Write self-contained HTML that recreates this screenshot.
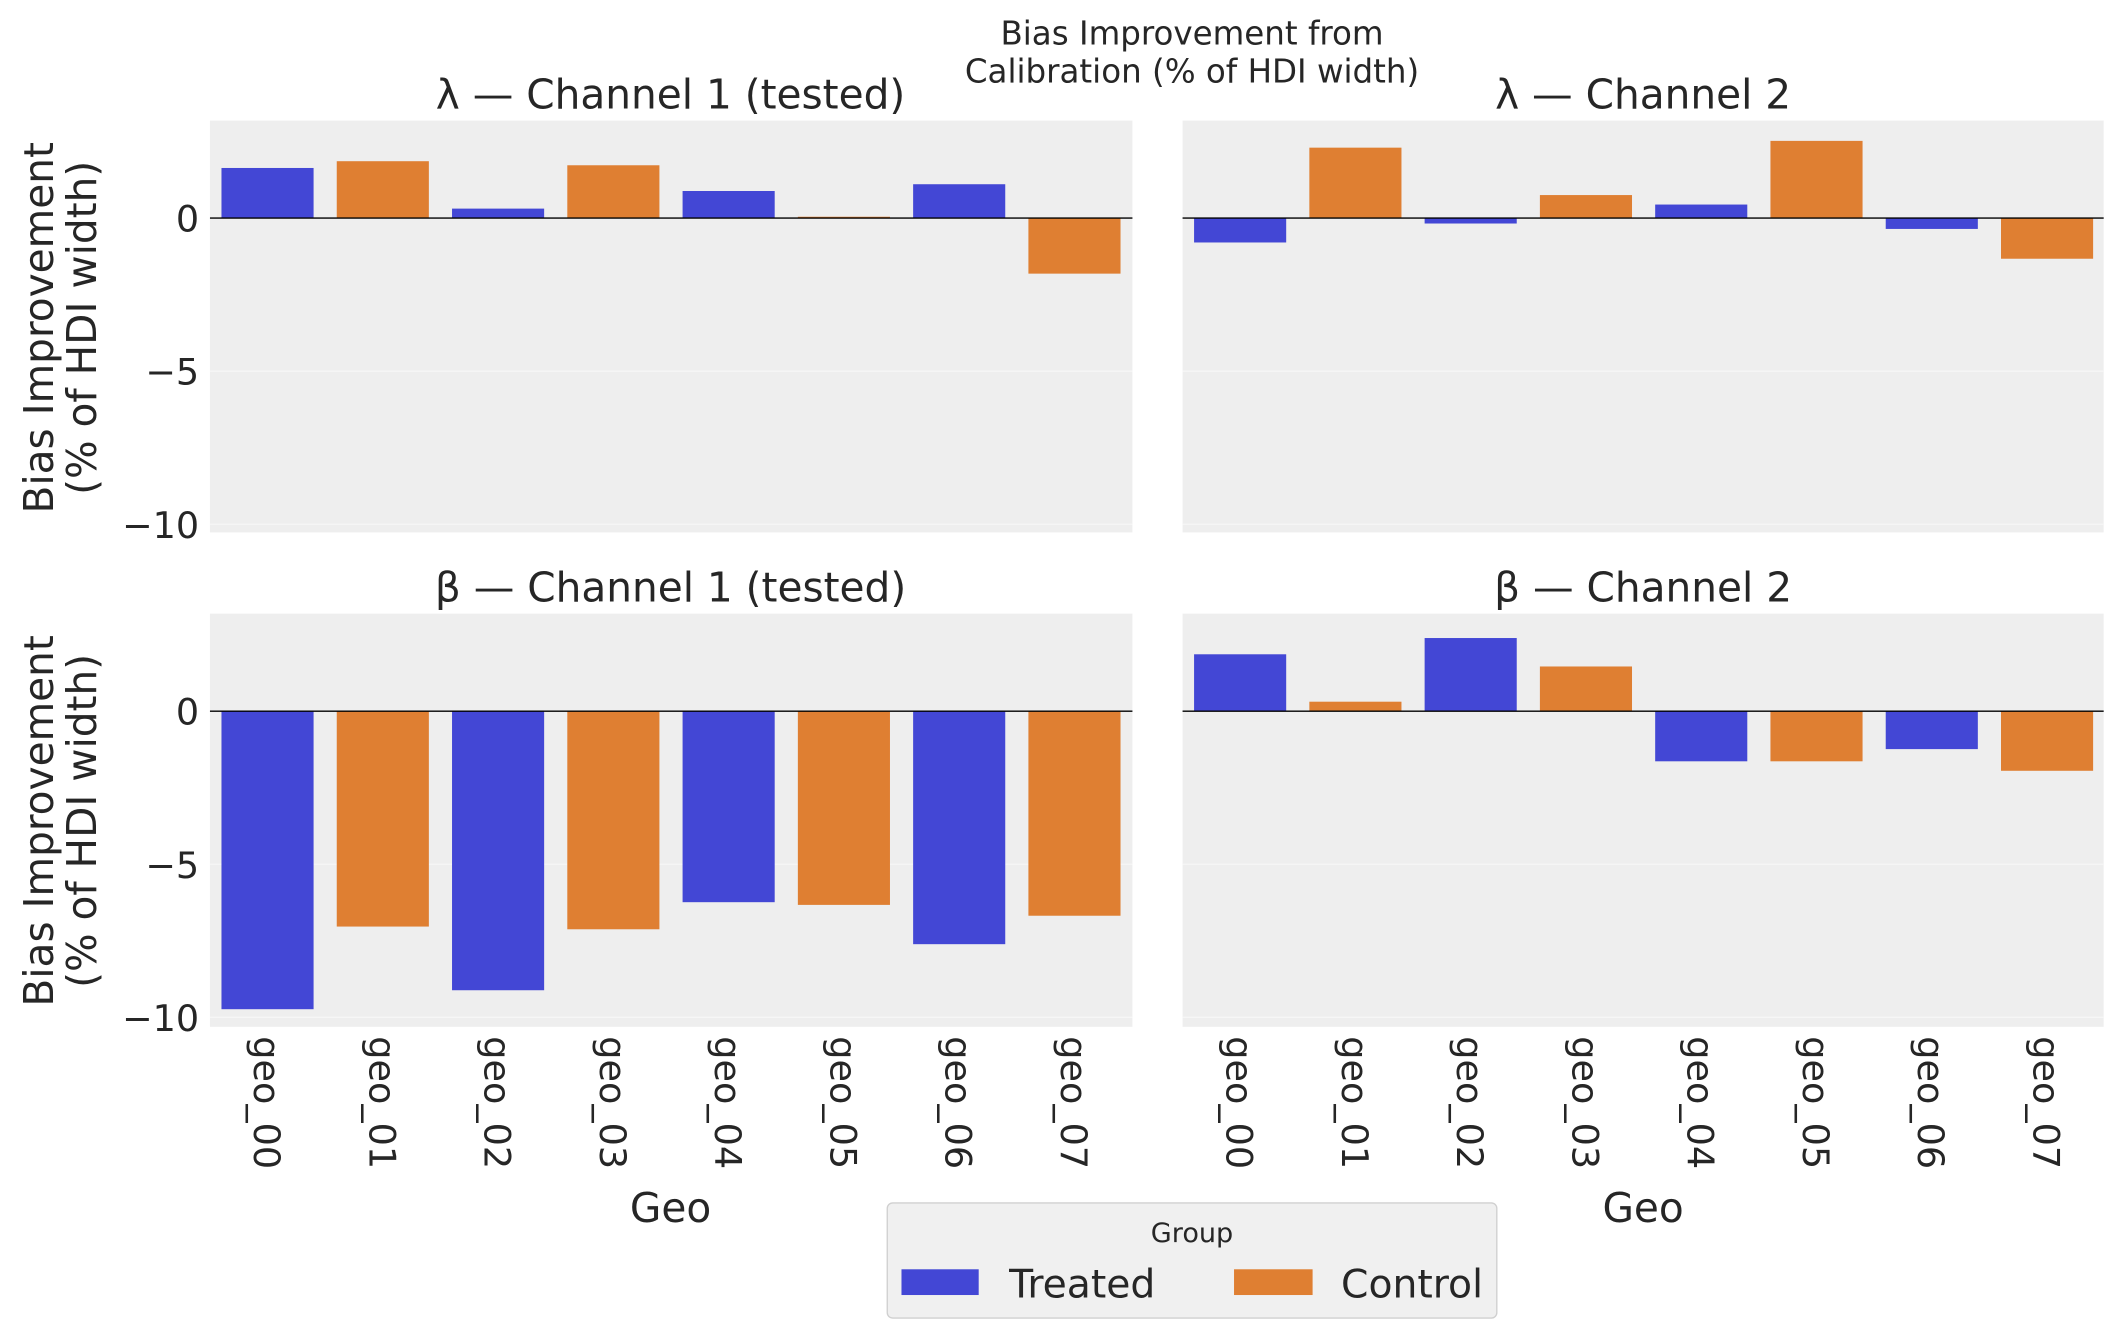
<!DOCTYPE html>
<html><head><meta charset="utf-8"><style>html,body{margin:0;padding:0;background:#fff}svg{display:block}</style></head>
<body>
<svg width="2124" height="1340" viewBox="0 0 1568 989.2" preserveAspectRatio="none" xmlns="http://www.w3.org/2000/svg" font-family="DejaVu Sans, Liberation Sans, sans-serif" fill="#262626">
<rect width="1568" height="990" fill="#fff"/>
<text x="880" y="33" font-size="24" text-anchor="middle">Bias Improvement from</text>
<text x="880" y="61" font-size="24" text-anchor="middle">Calibration (% of HDI width)</text>

<rect x="155" y="89" width="681" height="304" fill="#eeeeee"/>
<rect x="873" y="89" width="680" height="304" fill="#eeeeee"/>
<rect x="155" y="453" width="681" height="305" fill="#eeeeee"/>
<rect x="873" y="453" width="680" height="305" fill="#eeeeee"/>
<g stroke="#f6f6f6" stroke-width="1">
<line x1="155" x2="836" y1="274" y2="274"/><line x1="155" x2="836" y1="387" y2="387"/>
<line x1="873" x2="1553" y1="274" y2="274"/><line x1="873" x2="1553" y1="387" y2="387"/>
<line x1="155" x2="836" y1="638" y2="638"/><line x1="155" x2="836" y1="751" y2="751"/>
<line x1="873" x2="1553" y1="638" y2="638"/><line x1="873" x2="1553" y1="751" y2="751"/>
</g>

<g>
<rect x="163.5" y="124" width="68" height="37" fill="#4347d5"/>
<rect x="248.6" y="119" width="68" height="42" fill="#df7f32"/>
<rect x="333.7" y="154" width="68" height="7" fill="#4347d5"/>
<rect x="418.8" y="122" width="68" height="39" fill="#df7f32"/>
<rect x="503.9" y="141" width="68" height="20" fill="#4347d5"/>
<rect x="589.0" y="160" width="68" height="1" fill="#df7f32"/>
<rect x="674.1" y="136" width="68" height="25" fill="#4347d5"/>
<rect x="759.2" y="161" width="68" height="41" fill="#df7f32"/>
</g>
<g>
<rect x="881.5" y="161" width="68" height="18" fill="#4347d5"/>
<rect x="966.6" y="109" width="68" height="52" fill="#df7f32"/>
<rect x="1051.7" y="161" width="68" height="4" fill="#4347d5"/>
<rect x="1136.8" y="144" width="68" height="17" fill="#df7f32"/>
<rect x="1221.9" y="151" width="68" height="10" fill="#4347d5"/>
<rect x="1307.0" y="104" width="68" height="57" fill="#df7f32"/>
<rect x="1392.1" y="161" width="68" height="8" fill="#4347d5"/>
<rect x="1477.2" y="161" width="68" height="30" fill="#df7f32"/>
</g>
<g>
<rect x="163.5" y="525" width="68" height="220" fill="#4347d5"/>
<rect x="248.6" y="525" width="68" height="159" fill="#df7f32"/>
<rect x="333.7" y="525" width="68" height="206" fill="#4347d5"/>
<rect x="418.8" y="525" width="68" height="161" fill="#df7f32"/>
<rect x="503.9" y="525" width="68" height="141" fill="#4347d5"/>
<rect x="589.0" y="525" width="68" height="143" fill="#df7f32"/>
<rect x="674.1" y="525" width="68" height="172" fill="#4347d5"/>
<rect x="759.2" y="525" width="68" height="151" fill="#df7f32"/>
</g>
<g>
<rect x="881.5" y="483" width="68" height="42" fill="#4347d5"/>
<rect x="966.6" y="518" width="68" height="7" fill="#df7f32"/>
<rect x="1051.7" y="471" width="68" height="54" fill="#4347d5"/>
<rect x="1136.8" y="492" width="68" height="33" fill="#df7f32"/>
<rect x="1221.9" y="525" width="68" height="37" fill="#4347d5"/>
<rect x="1307.0" y="525" width="68" height="37" fill="#df7f32"/>
<rect x="1392.1" y="525" width="68" height="28" fill="#4347d5"/>
<rect x="1477.2" y="525" width="68" height="44" fill="#df7f32"/>
</g>
<g stroke="#000" stroke-width="1">
<line x1="155" x2="836" y1="161" y2="161"/><line x1="873" x2="1553" y1="161" y2="161"/>
<line x1="155" x2="836" y1="525" y2="525"/><line x1="873" x2="1553" y1="525" y2="525"/>
</g>

<g font-size="30" text-anchor="middle">
<text x="495" y="80">λ — Channel 1 (tested)</text>
<text x="1213" y="80">λ — Channel 2</text>
<text x="495" y="444">β — Channel 1 (tested)</text>
<text x="1213" y="444">β — Channel 2</text>
</g>

<g font-size="27" text-anchor="end">
<text x="147" y="171">0</text><text x="147" y="284">−5</text><text x="147" y="397">−10</text>
<text x="147" y="535">0</text><text x="147" y="648">−5</text><text x="147" y="761">−10</text>
</g>
<g font-size="30" text-anchor="middle">
<text transform="translate(39,242) rotate(-90)">Bias Improvement</text>
<text transform="translate(71,242) rotate(-90)">(% of HDI width)</text>
<text transform="translate(39,606) rotate(-90)">Bias Improvement</text>
<text transform="translate(71,606) rotate(-90)">(% of HDI width)</text>
</g>

<g font-size="27">
<text transform="translate(187.5,765) rotate(90)">geo_00</text>
<text transform="translate(272.6,765) rotate(90)">geo_01</text>
<text transform="translate(357.7,765) rotate(90)">geo_02</text>
<text transform="translate(442.8,765) rotate(90)">geo_03</text>
<text transform="translate(527.9,765) rotate(90)">geo_04</text>
<text transform="translate(613,765) rotate(90)">geo_05</text>
<text transform="translate(698.1,765) rotate(90)">geo_06</text>
<text transform="translate(783.2,765) rotate(90)">geo_07</text>
<text transform="translate(905.5,765) rotate(90)">geo_00</text>
<text transform="translate(990.6,765) rotate(90)">geo_01</text>
<text transform="translate(1075.7,765) rotate(90)">geo_02</text>
<text transform="translate(1160.8,765) rotate(90)">geo_03</text>
<text transform="translate(1245.9,765) rotate(90)">geo_04</text>
<text transform="translate(1331,765) rotate(90)">geo_05</text>
<text transform="translate(1416.1,765) rotate(90)">geo_06</text>
<text transform="translate(1501.2,765) rotate(90)">geo_07</text>
</g>
<g font-size="30" text-anchor="middle">
<text x="495" y="902">Geo</text><text x="1213" y="902">Geo</text>
</g>

<rect x="655" y="888" width="450" height="85" rx="4" fill="#f0f0f0" stroke="#d0d0d0" stroke-width="1"/>
<text x="880" y="917" font-size="20" text-anchor="middle">Group</text>
<rect x="665.5" y="937" width="57" height="19" fill="#4347d5"/>
<text x="745" y="958" font-size="29">Treated</text>
<rect x="911" y="937" width="58" height="19" fill="#df7f32"/>
<text x="990" y="958" font-size="29">Control</text>
</svg>
</body></html>
